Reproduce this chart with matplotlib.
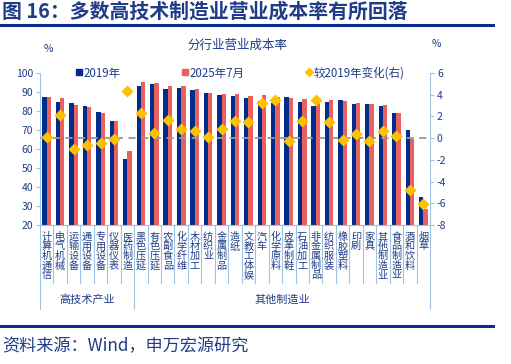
import numpy as np
import matplotlib
matplotlib.use("Agg")
import matplotlib.pyplot as plt
from matplotlib.transforms import blended_transform_factory
from matplotlib.lines import Line2D

plt.rcParams['font.family'] = ['Noto Sans CJK SC', 'DejaVu Sans']
plt.rcParams['axes.unicode_minus'] = False

# data
categories = ['计算机通信', '电气机械', '运输设备', '通用设备', '专用设备', '仪器仪表', '医药制造',
              '黑色压延', '有色压延', '农副食品', '化学纤维', '木材加工', '纺织业', '金属制品',
              '造纸', '文教工体娱', '汽车', '化学原料', '皮革制鞋', '石油加工', '非金属制品',
              '纺织服装', '橡胶塑料', '印刷', '家具', '其他制造业', '食品制造业', '酒和饮料', '烟草']
groups = ['高技术产业', '其他制造业']
group_sizes = [7, 22]
rate_2019 = [87.6, 84.7, 84.4, 82.6, 79.3, 74.9, 54.9,
             93.2, 94.4, 91.6, 92.3, 90.9, 89.6, 88.4,
             87.7, 86.8, 85.1, 84.2, 87.2, 84.7, 82.6,
             84.5, 85.6, 83.7, 83.7, 82.4, 78.7, 69.8, 34.6]
rate_2025 = [87.6, 86.8, 83.4, 81.9, 78.9, 74.9, 59.1,
             95.4, 94.7, 93.3, 93.3, 91.6, 89.6, 88.8,
             88.9, 88.0, 88.6, 87.4, 87.0, 86.3, 86.0,
             86.0, 85.2, 84.0, 83.5, 83.0, 78.8, 65.1, 28.5]
change = [0.1, 2.1, -1.0, -0.6, -0.45, -0.05, 4.3,
          2.3, 0.5, 1.7, 0.8, 0.65, 0.1, 0.85,
          1.6, 1.5, 3.2, 3.5, -0.28, 1.6, 3.5,
          1.5, -0.2, 0.34, -0.28, 0.65, 0.2, -4.8, -6.06]

navy = '#002c8c'
salmon = '#e8615f'
gold = '#ffc000'
txt = '#1f3c88'
axis_blue = '#9dc3e6'

fig = plt.figure(figsize=(5.11, 3.64), dpi=100)
ax = fig.add_axes([40 / 511, 1 - 225 / 364, 390 / 511, 152 / 364])
ax2 = ax.twinx()

x = np.arange(len(categories))
w = 0.32
ax.bar(x - w / 2, rate_2019, w, color=navy, zorder=2)
ax.bar(x + w / 2, rate_2025, w, color=salmon, zorder=2)
ax.set_ylim(20, 100)
ax.set_xlim(-0.5, len(categories) - 0.5)
ax.set_yticks(range(20, 101, 10))

ax2.axhline(0, color='#999999', lw=1.3, ls=(0, (4, 3)), zorder=1)
ax2.scatter(x, change, marker='D', s=38, color=gold, zorder=4, linewidths=0)
ax2.set_ylim(-8, 6)
ax2.set_yticks(range(-8, 7, 2))

for a in (ax, ax2):
    for s in a.spines.values():
        s.set_visible(False)
    a.tick_params(colors=axis_blue, labelcolor=txt, labelsize=7.5, length=3, width=0.8)
ax.spines['left'].set_visible(True)
ax.spines['left'].set_color(axis_blue)
ax2.spines['right'].set_visible(True)
ax2.spines['right'].set_color(axis_blue)
ax.spines['bottom'].set_visible(True)
ax.spines['bottom'].set_color(axis_blue)
ax.set_xticks([])
ax2.set_xticks([])
ax.tick_params(axis='y', pad=2)
ax2.tick_params(axis='y', pad=2)

# category labels and separators
tr = blended_transform_factory(ax.transData, ax.transAxes)
for i, c in enumerate(categories):
    ax.text(i, -0.045, '\n'.join(c), transform=tr, ha='center', va='top',
            fontsize=7.3, color=txt, linespacing=0.95)
bounds = np.cumsum([0] + group_sizes) - 0.5
for b in range(len(categories) + 1):
    xb = b - 0.5
    low = -0.555 if xb in bounds else -0.38
    ax.plot([xb, xb], [0, low], transform=tr, color=axis_blue, lw=0.8, clip_on=False)
for g, lo, hi in zip(groups, bounds[:-1], bounds[1:]):
    ax.text((lo + hi) / 2, -0.49, g, transform=tr,
            ha='center', va='center', fontsize=8, color=txt)

# legend
handles = [Line2D([], [], marker='s', ls='none', color=navy, markersize=5),
           Line2D([], [], marker='s', ls='none', color=salmon, markersize=5),
           Line2D([], [], marker='D', ls='none', color=gold, markersize=4)]
labels = ['2019年', '2025年7月', '较2019年变化(右)']
ax.legend(handles, labels, ncol=3, loc='center', bbox_to_anchor=(0.513, 1.0),
          frameon=False, fontsize=8.3, handlelength=0.6, handletextpad=0.1,
          columnspacing=5.3, labelcolor=txt, borderaxespad=0)

# titles and notes
fig.text(2 / 511, 1 - 11 / 364, '图 16：多数高技术制造业营业成本率有所回落', fontsize=14.3,
         fontweight='bold', color=txt, ha='left', va='center')
fig.add_artist(Line2D([0, 493 / 511], [1 - 24.5 / 364] * 2, color='#0b2f8f', lw=2.2))
fig.text(237 / 511, 1 - 45 / 364, '分行业营业成本率', fontsize=9, color=txt, ha='center', va='center')
fig.text(48 / 511, 1 - 49 / 364, '%', fontsize=7.5, color=txt, ha='center', va='center')
fig.text(436 / 511, 1 - 44 / 364, '%', fontsize=7.5, color=txt, ha='center', va='center')
fig.add_artist(Line2D([0, 493 / 511], [1 - 326 / 364] * 2, color='#0b2f8f', lw=2.2))
fig.text(2 / 511, 1 - 346 / 364, '资料来源：Wind，申万宏源研究', fontsize=12.3, color=txt,
         ha='left', va='center')

fig.savefig('out.png', dpi=100)
